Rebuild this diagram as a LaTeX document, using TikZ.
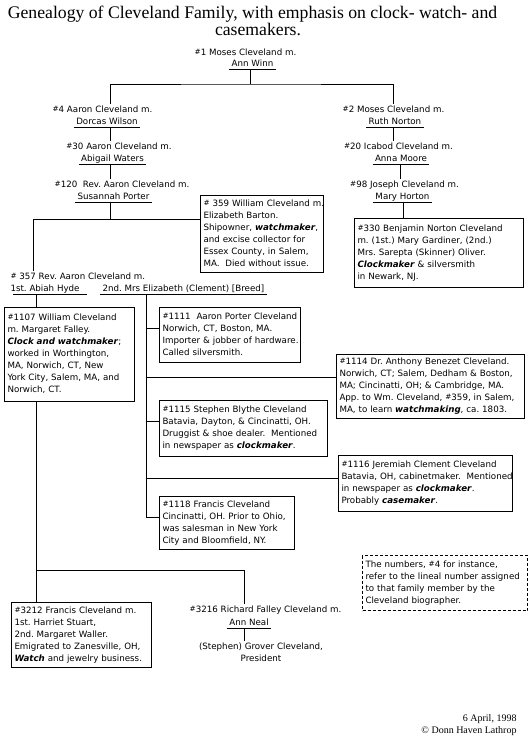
\documentclass[tikz,border=0pt]{standalone}
\usepackage{fontspec}
\setmainfont{DejaVu Sans}
\newfontfamily\serifnm{Liberation Serif}
\frenchspacing
\newcommand\bi[1]{\textbf{\textit{#1}}}
\newcommand\nr{\raisebox{1pt}{\fontsize{7.3}{7}\selectfont\#}}
\newcommand\rows[1]{\begin{tabular}{@{}l@{}}#1\end{tabular}}
\begin{document}
\begin{tikzpicture}[x=1pt,y=-1pt,line width=1pt,
  txt/.style={font=\fontsize{8.7}{12}\selectfont, inner xsep=2pt, inner ysep=1pt, text depth=2pt, anchor=base},
  box/.style={draw, font=\fontsize{8.7}{12}\selectfont, inner xsep=3pt, inner ysep=0pt, anchor=north west, align=left},
  notebox/.style={box, dash pattern=on 3pt off 2pt},
  ttl/.style={font=\serifnm\fontsize{17.7}{18}\selectfont, inner sep=0pt, anchor=base},
  sig/.style={font=\serifnm\fontsize{10}{12}\selectfont, inner sep=0pt, anchor=base east}]
\useasboundingbox (0,0) rectangle (531,744);
\fill[white] (0,0) rectangle (531,744);

% title
\node[ttl] (t1) at (252.5,18) {Genealogy of Cleveland Family, with emphasis on clock- watch- and};
\node[ttl] (t2) at (258,35) {casemakers.};

% couples
\node[txt] (m1) at (245.5,55) {\nr1 Moses Cleveland m.};
\node[txt] (s1) at (252.5,66) {Ann Winn};
\node[txt] (m4) at (102.5,112) {\nr4 Aaron Cleveland m.};
\node[txt] (s4) at (107,124) {Dorcas Wilson};
\node[txt] (m2) at (393.5,112) {\nr2 Moses Cleveland m.};
\node[txt] (s2) at (395,124) {Ruth Norton};
\node[txt] (m30) at (119,149) {\nr30 Aaron Cleveland m.};
\node[txt] (s30) at (112.5,161) {Abigail Waters};
\node[txt] (m20) at (398.5,149) {\nr20 Icabod Cleveland m.};
\node[txt] (s20) at (401,161) {Anna Moore};
\node[txt] (m120) at (122,187) {\nr120\ \ Rev. Aaron Cleveland m.};
\node[txt] (s120) at (113.5,199) {Susannah Porter};
\node[txt] (m98) at (404.5,187) {\nr98 Joseph Cleveland m.};
\node[txt] (s98) at (402.5,199) {Mary Horton};
\node[txt, anchor=base west] (m357) at (8,279) {\nr\ 357 Rev. Aaron Cleveland m.};
\node[txt, anchor=base west] (sa) at (8,291) {1st. Abiah Hyde};
\node[txt, anchor=base west] (sb) at (100,291) {2nd. Mrs Elizabeth (Clement) [Breed]};
\node[txt] (m3216) at (265.5,612) {\nr3216 Richard Falley Cleveland m.};
\node[txt] (s3216) at (249,625) {Ann Neal};
\node[txt, align=center, anchor=north] (g) at (261,641) {(Stephen) Grover Cleveland,\\ President};

\foreach \s in {s1,s4,s2,s30,s20,s120,s98,sb,s3216}
  \draw (\s.south west) -- (\s.south east);
\draw ([xshift=5pt]sa.south west) -- ([xshift=5pt]sa.south east);

% boxes
\node[box, text width=117pt, minimum height=77pt] (b359) at (200,195) {\rows{\nr\ 359 William Cleveland m.\\ Elizabeth Barton.\\ Shipowner, \bi{watchmaker},\\ and excise collector for\\ Essex County, in Salem,\\ MA.\ \ Died without issue.}};
\node[box, text width=163pt, minimum height=69pt] (b330) at (354,218) {\rows{\nr330 Benjamin Norton Cleveland\\ m. (1st.) Mary Gardiner, (2nd.)\\ Mrs. Sarepta (Skinner) Oliver.\\ \bi{Clockmaker} \& silversmith\\ in Newark, NJ.}};
\node[box, text width=124pt, minimum height=94pt] (b1107) at (4,307) {\rows{\nr1107 William Cleveland\\ m. Margaret Falley.\\ \bi{Clock and watchmaker};\\ worked in Worthington,\\ MA, Norwich, CT, New\\ York City, Salem, MA, and\\ Norwich, CT.}};
\node[box, text width=135pt, minimum height=55pt] (b1111) at (159,307) {\rows{\nr1111\ \ Aaron Porter Cleveland\\ Norwich, CT, Boston, MA.\\ Importer \& jobber of hardware.\\ Called silversmith.}};
\node[box, text width=182pt, minimum height=64pt] (b1114) at (336,354) {\rows{\nr1114 Dr. Anthony Benezet Cleveland.\\ Norwich, CT; Salem, Dedham \& Boston,\\ MA; Cincinatti, OH; \& Cambridge, MA.\\ App. to Wm. Cleveland, \nr359, in Salem,\\ MA, to learn \bi{watchmaking}, ca. 1803.}};
\node[box, text width=162pt, minimum height=56pt] (b1115) at (159,400) {\rows{\nr1115 Stephen Blythe Cleveland\\ Batavia, Dayton, \& Cincinatti, OH.\\ Druggist \& shoe dealer.\ \ Mentioned\\ in newspaper as \bi{clockmaker}.}};
\node[box, text width=168pt, minimum height=56pt] (b1116) at (338,455) {\rows{\nr1116 Jeremiah Clement Cleveland\\ Batavia, OH, cabinetmaker.\ \ Mentioned\\ in newspaper as \bi{clockmaker}.\\ Probably \bi{casemaker}.}};
\node[box, text width=129pt, minimum height=53pt] (b1118) at (159,496) {\rows{\nr1118 Francis Cleveland\\ Cincinatti, OH. Prior to Ohio,\\ was salesman in New York\\ City and Bloomfield, NY.}};
\node[box, text width=134pt, minimum height=65pt] (b3212) at (11,602) {\rows{\nr3212 Francis Cleveland m.\\ 1st. Harriet Stuart,\\ 2nd. Margaret Waller.\\ Emigrated to Zanesville, OH,\\ \bi{Watch} and jewelry business.}};
\node[notebox, text width=159pt, minimum height=55pt] (note) at (362,555) {\rows{The numbers, \nr4 for instance,\\ refer to the lineal number assigned\\ to that family member by the\\ Cleveland biographer.}};

% signature
\node[sig] (d1) at (517,721) {6 April, 1998};
\node[sig] (d2) at (517,733) {© Donn Haven Lathrop};

% column / junction coordinates
\coordinate (cT) at (250,84);
\coordinate (cL) at (110,0);
\coordinate (cR1) at (393,0);
\coordinate (cR2) at (400,0);
\coordinate (cR3) at (403,0);
\coordinate (j359) at (33,219);
\coordinate (cA) at (36,0);
\coordinate (cM) at (146,0);
\coordinate (t1111) at (146,328);
\coordinate (t1114) at (146,377);
\coordinate (t1115) at (146,421);
\coordinate (t1116) at (146,478);
\coordinate (t1118) at (146,517);
\coordinate (t3216) at (244,570);

% connectors
\draw (cT |- s1.south) -- (cT);
\draw (cL |- m4.north) |- (cT) -| (cR1 |- m2.north);
\draw (cL |- s4.south) -- (cL |- m30.north);
\draw (cL |- s30.south) -- (cL |- m120.north);
\draw (cL |- s120.south) -- (cL |- j359);
\draw (j359 |- m357.north) |- (b359.west |- j359);
\draw (cR1 |- s2.south) -- (cR1 |- m20.north);
\draw (cR2 |- s20.south) -- (cR2 |- m98.north);
\draw (cR3 |- s98.south) -- (cR3 |- b330.north);

\draw (cA |- sa.south) -- (cA |- b1107.north);
\draw (cA |- b1107.south) -- (cA |- b3212.north);
\draw (cA |- t3216) -- (t3216) -- (t3216 |- m3216.north);
\draw (t3216 |- s3216.south) -- (t3216 |- g.north);

\draw (cM |- sb.south) -- (t1118) -- (b1118.west |- t1118);
\draw (t1111) -- (b1111.west |- t1111);
\draw (t1114) -- (b1114.west |- t1114);
\draw (t1115) -- (b1115.west |- t1115);
\draw (t1116) -- (b1116.west |- t1116);
\end{tikzpicture}
\end{document}
